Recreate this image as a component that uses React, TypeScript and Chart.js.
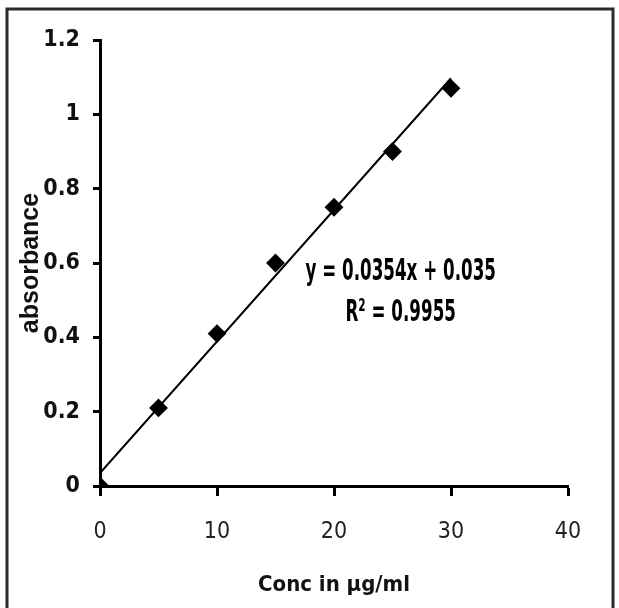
import React, { useEffect, useRef } from "react";
import { Chart, registerables } from "chart.js";

Chart.register(...registerables);

// ---- data ----
const concentrations = [0, 5, 10, 15, 20, 25, 30];
const absorbances = [0, 0.21, 0.41, 0.6, 0.75, 0.9, 1.07];
const trendX = [0, 30];
const trendY = [0.035, 1.097];
const xTickValues = [0, 10, 20, 30, 40];
const yTickLabels = ["0", "0.2", "0.4", "0.6", "0.8", "1", "1.2"];
const equationLines = ["y = 0.0354x + 0.035", "R² = 0.9955"];
const xTitle = "Conc in μg/ml";
const yTitle = "absorbance";

const NARROW = '"DejaVu Sans Condensed", "DejaVu Sans", sans-serif';

const decorPlugin = {
  id: "decor",
  beforeDraw(chart: any) {
    const { ctx, width, height } = chart;
    ctx.save();
    ctx.fillStyle = "#ffffff";
    ctx.fillRect(0, 0, width, height);
    ctx.restore();
  },
  afterDatasetsDraw(chart: any, _args: any, opts: any) {
    const { ctx, scales } = chart;
    const cx = scales.x.getPixelForValue(opts.anchorX);
    const cy = scales.y.getPixelForValue(opts.anchorY);
    ctx.save();
    ctx.fillStyle = "#000";
    ctx.textAlign = "center";
    ctx.textBaseline = "middle";
    ctx.font = `bold 31px ${NARROW}`;
    equationLines.forEach((line, i) => {
      ctx.save();
      ctx.translate(cx, cy + i * opts.lineGap);
      ctx.scale(0.6, 1);
      ctx.fillText(line, 0, 0);
      ctx.restore();
    });
    ctx.restore();
  },
  afterDraw(chart: any) {
    const { ctx } = chart;
    ctx.save();
    ctx.strokeStyle = "#2a2a2a";
    ctx.lineWidth = 3;
    ctx.strokeRect(7, 9, 606, 610);
    ctx.restore();
  },
};

export default function App() {
  const ref = useRef<HTMLCanvasElement | null>(null);

  useEffect(() => {
    if (!ref.current) return;
    const chart = new Chart(ref.current, {
      type: "scatter",
      data: {
        datasets: [
          {
            label: "absorbance",
            data: concentrations.map((c, i) => ({ x: c, y: absorbances[i] })),
            pointStyle: "rectRot",
            pointRadius: 8,
            pointBorderWidth: 2,
            backgroundColor: "#000",
            borderColor: "#000",
            showLine: false,
          },
          {
            label: "trend",
            type: "line",
            data: trendX.map((c, i) => ({ x: c, y: trendY[i] })),
            borderColor: "#000",
            borderWidth: 2,
            pointRadius: 0,
            showLine: true,
            fill: false,
          } as any,
        ],
      },
      options: {
        responsive: false,
        animation: false,
        layout: { padding: { left: 0, top: 40, right: 51, bottom: 0 } },
        plugins: {
          legend: { display: false },
          tooltip: { enabled: false },
          decor: { anchorX: 25.7, anchorY: 0.576, lineGap: 41 },
        } as any,
        scales: {
          x: {
            type: "linear",
            min: 0,
            max: 40,
            afterBuildTicks: (s: any) => {
              s.ticks = xTickValues.map((v) => ({ value: v }));
            },
            afterFit: (s: any) => {
              s.height = 122;
            },
            grid: {
              drawOnChartArea: false,
              drawTicks: true,
              tickLength: 10,
              tickWidth: 3,
              tickColor: "#000",
            },
            border: { display: true, color: "#000", width: 3 },
            ticks: {
              color: "#222",
              padding: 22,
              font: { family: NARROW, size: 23, weight: "normal" },
            },
            title: {
              display: true,
              text: xTitle,
              color: "#111",
              font: { family: NARROW, size: 22, weight: "bold" },
              padding: { top: 0, bottom: 10 },
            },
          },
          y: {
            type: "linear",
            min: 0,
            max: 1.2,
            ticks: {
              stepSize: 0.2,
              color: "#111",
              padding: 13,
              font: { family: NARROW, size: 23, weight: "bold" },
              callback: (_v: any, i: number) => yTickLabels[i],
            },
            afterFit: (s: any) => {
              s.width = 100;
            },
            grid: {
              drawOnChartArea: false,
              drawTicks: true,
              tickLength: 7,
              tickWidth: 3,
              tickColor: "#000",
            },
            border: { display: true, color: "#000", width: 3 },
            title: {
              display: true,
              text: yTitle,
              color: "#111",
              font: { family: '"Liberation Sans", Arial, sans-serif', size: 25, weight: "bold" },
              padding: { top: 16, bottom: 0 },
            },
          },
        },
      },
      plugins: [decorPlugin],
    });
    return () => chart.destroy();
  }, []);

  return (
    <div style={{ position: "absolute", left: 0, top: 0, width: 619, height: 608 }}>
      <canvas ref={ref} width={619} height={608} />
    </div>
  );
}
